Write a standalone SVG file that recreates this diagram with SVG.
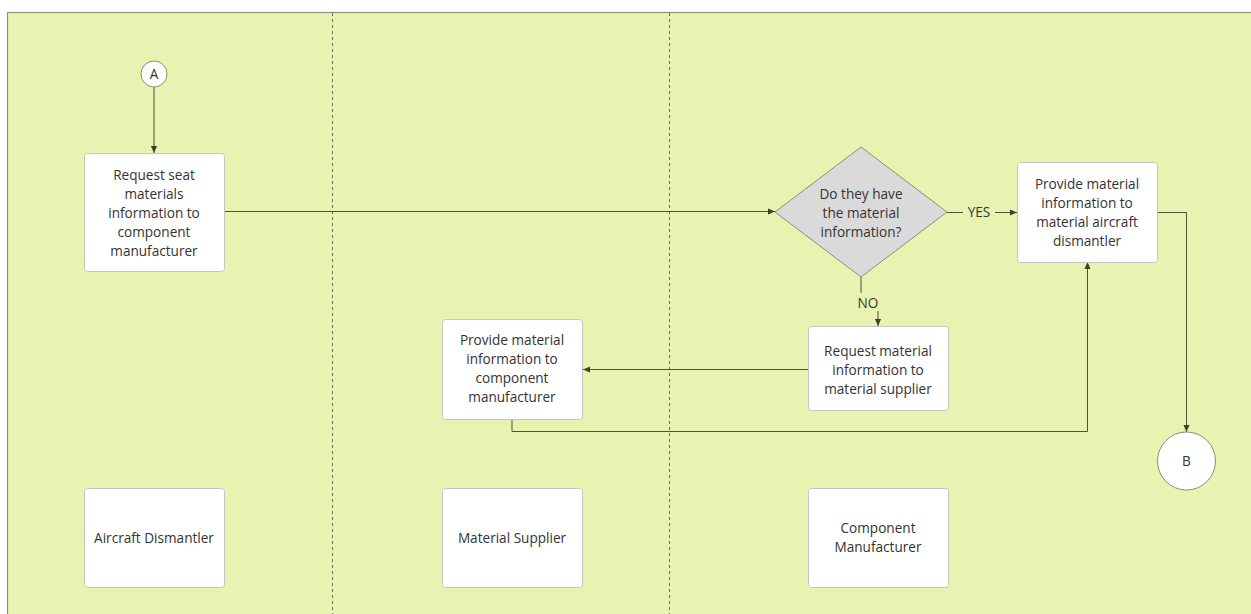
<svg xmlns="http://www.w3.org/2000/svg" width="1251" height="614" viewBox="0 0 1251 614">
<style>
.t{font-family:"Open Sans","Noto Sans","Liberation Sans",sans-serif;font-size:13.6px;fill:#333;text-anchor:middle}
.box{fill:#fff;stroke:#c4c7bd;stroke-width:1}
.c{fill:none;stroke:#4c5236;stroke-width:1}
.lane{stroke:#6b6e5c;stroke-width:1;stroke-dasharray:3 3}
</style>
<defs>
<marker id="ah" viewBox="0 0 8 8" refX="8" refY="4" markerWidth="7" markerHeight="7" orient="auto" markerUnits="userSpaceOnUse">
<path d="M0,0.5 L8,4 L0,7.5 Z" fill="#3d4229"/>
</marker>
</defs>
<rect x="0" y="0" width="1251" height="614" fill="#fff"/>
<rect x="7.5" y="12.5" width="1250" height="610" fill="#e9f3b1" stroke="#8f9479" stroke-width="1.2"/>
<g id="lanes">
<line class="lane" x1="332.5" y1="13" x2="332.5" y2="614"/>
<line class="lane" x1="669.5" y1="13" x2="669.5" y2="614"/>
</g>
<g id="connectors">
<line class="c" x1="154" y1="87" x2="154" y2="153" marker-end="url(#ah)" stroke="#6b7050"/>
<line class="c" x1="224" y1="211.5" x2="775" y2="211.5" marker-end="url(#ah)"/>
<path class="c" d="M947,212.5 H1017" marker-end="url(#ah)"/>
<path class="c" d="M1157,212.5 H1186.5 V432" marker-end="url(#ah)"/>
<path class="c" d="M861,277 V303 H878 V326" marker-end="url(#ah)"/>
<line class="c" x1="808" y1="369.5" x2="583" y2="369.5" marker-end="url(#ah)"/>
<path class="c" d="M512,419 V431.5 H1087.5 V262" marker-end="url(#ah)"/>
<rect x="963" y="204" width="32" height="17" fill="#e9f3b1"/>
<text class="t" x="979" y="217" fill="#4c5236">YES</text>
<rect x="854" y="293" width="28" height="18" fill="#e9f3b1"/>
<text class="t" x="868" y="307.5">NO</text>
</g>
<g id="nodeA">
<circle cx="154" cy="74" r="13" fill="#fff" stroke="#8a8e7a"/>
<text class="t" x="154" y="79">A</text>
</g>
<g id="node1">
<rect class="box" x="84.5" y="153.5" width="140" height="118" rx="3"/>
<text class="t" x="154" y="180">Request seat</text>
<text class="t" x="154" y="199">materials</text>
<text class="t" x="154" y="218">information to</text>
<text class="t" x="154" y="237">component</text>
<text class="t" x="154" y="256">manufacturer</text>
</g>
<g id="decision">
<polygon points="861,147 947,212 861,277 775,212" fill="#dadada" stroke="#8a8e7a"/>
<text class="t" x="861" y="199">Do they have</text>
<text class="t" x="861" y="218">the material</text>
<text class="t" x="861" y="237">information?</text>
</g>
<g id="node2">
<rect class="box" x="1017.5" y="162.5" width="140" height="100" rx="3"/>
<text class="t" x="1087" y="189">Provide material</text>
<text class="t" x="1087" y="208">information to</text>
<text class="t" x="1087" y="227">material aircraft</text>
<text class="t" x="1087" y="246">dismantler</text>
</g>
<g id="nodeB">
<circle cx="1186.5" cy="461" r="29" fill="#fff" stroke="#8a8e7a"/>
<text class="t" x="1186.5" y="466">B</text>
</g>
<g id="node3">
<rect class="box" x="808.5" y="326.5" width="140" height="84" rx="3"/>
<text class="t" x="878" y="356">Request material</text>
<text class="t" x="878" y="375">information to</text>
<text class="t" x="878" y="394">material supplier</text>
</g>
<g id="node4">
<rect class="box" x="442.5" y="319.5" width="140" height="100" rx="3"/>
<text class="t" x="512" y="345">Provide material</text>
<text class="t" x="512" y="364">information to</text>
<text class="t" x="512" y="383">component</text>
<text class="t" x="512" y="402">manufacturer</text>
</g>
<g id="lane1">
<rect class="box" x="84.5" y="488.5" width="140" height="99" rx="3"/>
<text class="t" x="154" y="543">Aircraft Dismantler</text>
</g>
<g id="lane2">
<rect class="box" x="442.5" y="488.5" width="140" height="99" rx="3"/>
<text class="t" x="512" y="543">Material Supplier</text>
</g>
<g id="lane3">
<rect class="box" x="808.5" y="488.5" width="140" height="99" rx="3"/>
<text class="t" x="878" y="533">Component</text>
<text class="t" x="878" y="552">Manufacturer</text>
</g>
</svg>
